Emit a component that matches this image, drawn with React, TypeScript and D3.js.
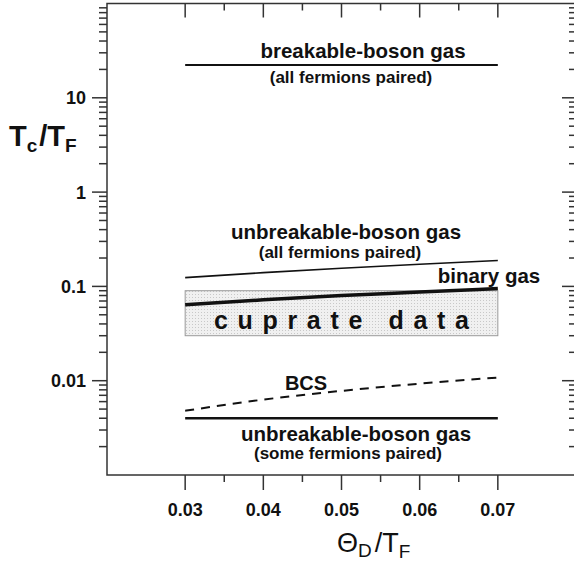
import React, { useEffect, useRef } from "react";
import * as d3 from "d3";

// x positions where the model curves are evaluated
const xPoints = [0.03, 0.04, 0.05, 0.06, 0.07];
const unbreakableAll = [0.124, 0.14, 0.156, 0.172, 0.188];
const binaryGas = [0.064, 0.072, 0.08, 0.087, 0.095];
const bcs = [0.0048, 0.0063, 0.0078, 0.0093, 0.0108];
const breakableLevel = 22.3;
const unbreakableSomeLevel = 0.004;
const cuprateBox = { x0: 0.03, x1: 0.07, y0: 0.03, y1: 0.09 };

const xMajorTicks = [0.03, 0.04, 0.05, 0.06, 0.07];
const xMinorTicks = [0.035, 0.045, 0.055, 0.065];
const yMajorTicks = [0.01, 0.1, 1, 10];
const yTickLabels = ["0.01", "0.1", "1", "10"];

const FONT = "'Liberation Sans', Arial, Helvetica, sans-serif";

const drawChart = (el: SVGSVGElement) => {
  const width = 574;
  const height = 562;
  const marginLeft = 107;
  const marginRight = -2;
  const marginTop = 3.5;
  const marginBottom = 87;

  const svg = d3.select(el).attr("width", width).attr("height", height);
  svg.selectAll("*").remove();

  const x = d3
    .scaleLinear()
    .domain([0.02, 0.08])
    .range([marginLeft, width - marginRight]);

  const y = d3
    .scaleLog()
    .domain([0.001, 100])
    .range([height - marginBottom, marginTop]);

  const defs = svg.append("defs");
  const pat = defs
    .append("pattern")
    .attr("id", "dots")
    .attr("width", 3)
    .attr("height", 3)
    .attr("patternUnits", "userSpaceOnUse");
  pat.append("rect").attr("width", 3).attr("height", 3).attr("fill", "#f0f0f0");
  pat.append("rect").attr("width", 1).attr("height", 1).attr("fill", "#c8c8c8");

  const x0 = x.range()[0];
  const x1 = x.range()[1];
  const yb = y.range()[0];
  const yt = y.range()[1];

  // cuprate data box
  svg
    .append("rect")
    .attr("x", x(cuprateBox.x0))
    .attr("y", y(cuprateBox.y1))
    .attr("width", x(cuprateBox.x1) - x(cuprateBox.x0))
    .attr("height", y(cuprateBox.y0) - y(cuprateBox.y1))
    .attr("fill", "url(#dots)")
    .attr("stroke", "#999")
    .attr("stroke-width", 1);

  svg
    .append("text")
    .attr("x", (x(cuprateBox.x0) + x(cuprateBox.x1)) / 2)
    .attr("y", y(cuprateBox.y0) - 7)
    .attr("text-anchor", "middle")
    .attr("font-family", FONT)
    .attr("font-weight", "bold")
    .attr("font-size", 25)
    .attr("textLength", 255)
    .attr("lengthAdjust", "spacing")
    .attr("fill", "#111")
    .text("cuprate data");

  // frame
  svg
    .append("rect")
    .attr("x", x0)
    .attr("y", yt)
    .attr("width", x1 - x0)
    .attr("height", yb - yt)
    .attr("fill", "none")
    .attr("stroke", "#333")
    .attr("stroke-width", 1.5);

  // x ticks: outward at bottom, inward at top
  const xt = svg.append("g").attr("stroke", "#333").attr("stroke-width", 1.5);
  xMajorTicks.forEach((t) => {
    xt.append("line").attr("x1", x(t)).attr("x2", x(t)).attr("y1", yb).attr("y2", yb + 15);
    xt.append("line").attr("x1", x(t)).attr("x2", x(t)).attr("y1", yt).attr("y2", yt + 14);
  });
  xMinorTicks.forEach((t) => {
    xt.append("line").attr("x1", x(t)).attr("x2", x(t)).attr("y1", yb).attr("y2", yb + 7);
    xt.append("line").attr("x1", x(t)).attr("x2", x(t)).attr("y1", yt).attr("y2", yt + 7);
  });

  svg
    .append("g")
    .selectAll("text")
    .data(xMajorTicks)
    .enter()
    .append("text")
    .attr("x", (d) => x(d))
    .attr("y", 516)
    .attr("text-anchor", "middle")
    .attr("font-family", FONT)
    .attr("font-weight", "bold")
    .attr("font-size", 18)
    .attr("fill", "#111")
    .text((d) => d3.format(".2f")(d));

  // y ticks: outward on left, inward on right
  const ytg = svg.append("g").attr("stroke", "#333").attr("stroke-width", 1.5);
  for (let e = -3; e < 2; e++) {
    const base = Math.pow(10, e);
    for (let m = 1; m <= 9; m++) {
      const v = base * m;
      if (v <= 0.001 || v >= 100) continue;
      const major = m === 1;
      ytg.append("line").attr("x1", x0 - (major ? 15 : 8)).attr("x2", x0).attr("y1", y(v)).attr("y2", y(v));
      ytg.append("line").attr("x1", x1 - (major ? 14 : 7)).attr("x2", x1).attr("y1", y(v)).attr("y2", y(v));
    }
  }

  svg
    .append("g")
    .selectAll("text")
    .data(yMajorTicks)
    .enter()
    .append("text")
    .attr("x", 86)
    .attr("y", (d) => y(d) + 6.5)
    .attr("text-anchor", "end")
    .attr("font-family", FONT)
    .attr("font-weight", "bold")
    .attr("font-size", 18)
    .attr("fill", "#111")
    .text((d, i) => yTickLabels[i]);

  // model lines
  const line = d3
    .line<number>()
    .x((d, i) => x(xPoints[i]))
    .y((d) => y(d))
    .curve(d3.curveMonotoneX);

  svg
    .append("line")
    .attr("x1", x(0.03))
    .attr("x2", x(0.07))
    .attr("y1", y(breakableLevel))
    .attr("y2", y(breakableLevel))
    .attr("stroke", "#111")
    .attr("stroke-width", 2);

  svg
    .append("path")
    .attr("d", line(unbreakableAll))
    .attr("fill", "none")
    .attr("stroke", "#111")
    .attr("stroke-width", 1.6);

  svg
    .append("path")
    .attr("d", line(binaryGas))
    .attr("fill", "none")
    .attr("stroke", "#111")
    .attr("stroke-width", 3.5);

  svg
    .append("path")
    .attr("d", line(bcs))
    .attr("fill", "none")
    .attr("stroke", "#111")
    .attr("stroke-width", 2)
    .attr("stroke-dasharray", "9,7");

  svg
    .append("line")
    .attr("x1", x(0.03))
    .attr("x2", x(0.07))
    .attr("y1", y(unbreakableSomeLevel))
    .attr("y2", y(unbreakableSomeLevel))
    .attr("stroke", "#111")
    .attr("stroke-width", 2.5);

  // annotations
  const labels = [
    { t: "breakable-boson gas", cx: 363, y: 58, s: 20.5 },
    { t: "(all fermions paired)", cx: 351, y: 83, s: 17 },
    { t: "unbreakable-boson gas", cx: 346, y: 239, s: 20.5 },
    { t: "(all fermions paired)", cx: 340, y: 258, s: 17 },
    { t: "binary gas", cx: 489, y: 283, s: 20.5 },
    { t: "BCS", cx: 306, y: 390, s: 20 },
    { t: "unbreakable-boson gas", cx: 356, y: 441, s: 20.5 },
    { t: "(some fermions paired)", cx: 348, y: 459, s: 17 },
  ];
  svg
    .append("g")
    .selectAll("text")
    .data(labels)
    .enter()
    .append("text")
    .attr("x", (d) => d.cx)
    .attr("y", (d) => d.y)
    .attr("text-anchor", "middle")
    .attr("font-family", FONT)
    .attr("font-weight", "bold")
    .attr("font-size", (d) => d.s)
    .attr("fill", "#111")
    .text((d) => d.t);

  // y axis title  T_c / T_F
  const yTitle = svg
    .append("text")
    .attr("x", 9)
    .attr("y", 146)
    .attr("font-family", FONT)
    .attr("font-weight", "bold")
    .attr("font-size", 29)
    .attr("fill", "#111");
  yTitle.append("tspan").text("T");
  yTitle.append("tspan").attr("dy", 6).attr("font-size", 19).text("c");
  yTitle.append("tspan").attr("dy", -6).attr("dx", 2).text("/T");
  yTitle.append("tspan").attr("dy", 6).attr("font-size", 19).text("F");

  // x axis title  Θ_D / T_F
  const xTitle = svg
    .append("text")
    .attr("x", 337)
    .attr("y", 552)
    .attr("font-family", FONT)
    .attr("font-size", 27)
    .attr("fill", "#111");
  xTitle.append("tspan").text("Θ");
  xTitle.append("tspan").attr("dy", 5).attr("font-size", 19).text("D");
  xTitle.append("tspan").attr("dy", -5).attr("dx", 3).text("/T");
  xTitle.append("tspan").attr("dy", 6).attr("font-size", 19).text("F");
};

export default function App() {
  const ref = useRef<SVGSVGElement>(null);
  useEffect(() => {
    document.body.style.margin = "0";
    if (ref.current) drawChart(ref.current);
  }, []);
  return (
    <div id="chart">
      <svg ref={ref} style={{ display: "block", background: "#fff" }} />
    </div>
  );
}
